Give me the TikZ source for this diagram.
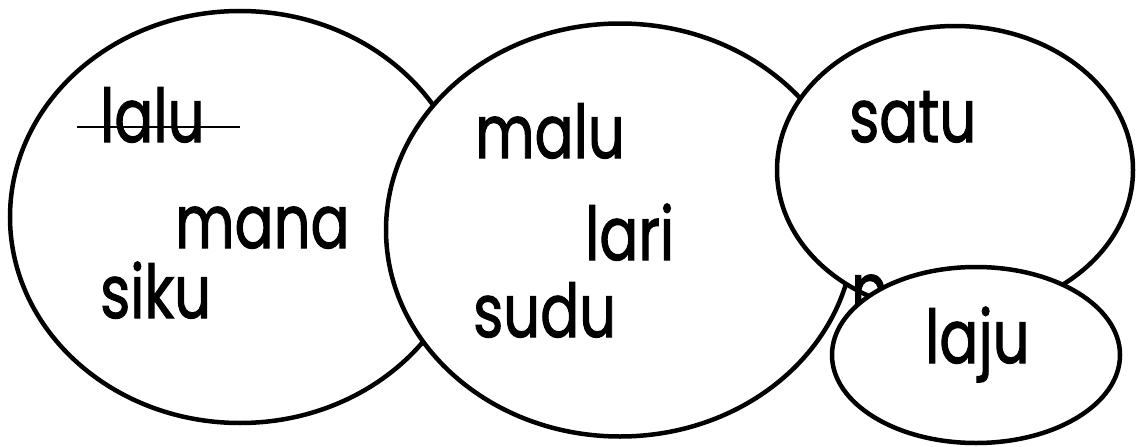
\documentclass[tikz,border=0pt]{standalone}
\usepackage{fontspec}
\newfontfamily\wordfont[FakeBold=1.6]{Poppins}
\usetikzlibrary{shapes.geometric}
\begin{document}
\begin{tikzpicture}[x=1pt,y=-1pt,
  bubble/.style={ellipse,draw=black,line width=4.5pt,fill=white,inner sep=0pt,outer sep=0pt},
  word/.style={anchor=base west,inner sep=0pt,xscale=0.78,transform shape,font=\wordfont\fontsize{74}{74}\selectfont}]
\useasboundingbox (0,0) rectangle (1136,447);
\fill[white] (0,0) rectangle (1136,447);
\node[bubble,minimum width=460pt,minimum height=412pt] (e1) at (240,217) {};
\node[bubble,minimum width=468pt,minimum height=413pt] (e2) at (620,230) {};
\node[bubble,minimum width=356pt,minimum height=288pt] (e3) at (955,170) {};
\node[word] (n) at (851,316) {n};
\node[bubble,minimum width=288pt,minimum height=176pt] (e4) at (976,355) {};
\node[word] (lalu) at (100,142) {lalu};
\coordinate (s1) at (77,127);
\coordinate (s2) at (240,127);
\draw[line width=2.2pt] (s1) -- (s2);
\node[word] (mana) at (175,248) {mana};
\node[word] (siku) at (100,318) {siku};
\node[word] (malu) at (475,158) {malu};
\node[word] (lari) at (585,260) {lari};
\node[word] (sudu) at (473,337) {sudu};
\node[word] (satu) at (849,142) {satu};
\node[word] (laju) at (925,363) {laju};
\end{tikzpicture}
\end{document}
